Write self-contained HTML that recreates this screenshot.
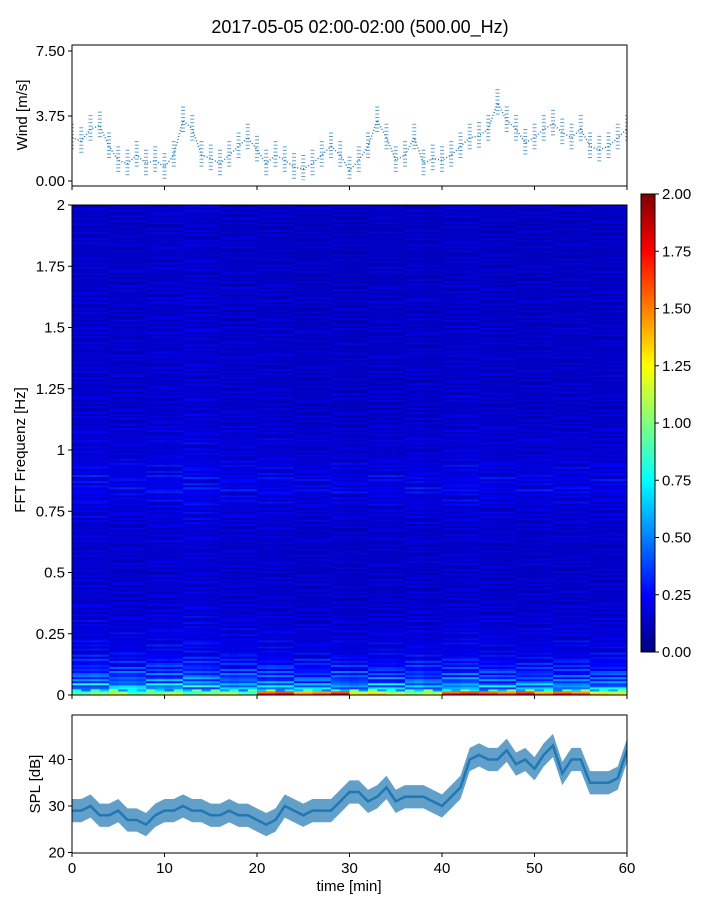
<!DOCTYPE html>
<html><head><meta charset="utf-8">
<style>
body{margin:0;background:#fff;font-family:"Liberation Sans","DejaVu Sans",sans-serif;}
svg text{font-family:"Liberation Sans","DejaVu Sans",sans-serif;}
</style></head>
<body>
<svg id="chart" width="720" height="900" xmlns="http://www.w3.org/2000/svg">
<defs>
<linearGradient id="jet" x1="0" y1="1" x2="0" y2="0">
<stop offset="0" stop-color="#00007f"/><stop offset="0.125" stop-color="#0000ff"/>
<stop offset="0.375" stop-color="#00ffff"/><stop offset="0.625" stop-color="#ffff00"/>
<stop offset="0.875" stop-color="#ff0000"/><stop offset="1" stop-color="#7f0000"/>
</linearGradient>
<clipPath id="clipW"><rect x="72" y="45" width="555" height="141"/></clipPath>
<clipPath id="clipS"><rect x="72" y="715" width="555" height="138"/></clipPath>
</defs>
<text x="360" y="33" text-anchor="middle" font-size="18">2017-05-05 02:00-02:00 (500.00_Hz)</text>
<g id="wind"></g>
<g id="spec"></g>
<g id="cbar"></g>
<g id="spl"></g>
</svg>
<script>
const minutes=[0,1,2,3,4,5,6,7,8,9,10,11,12,13,14,15,16,17,18,19,20,21,22,23,24,25,26,27,28,29,30,31,32,33,34,35,36,37,38,39,40,41,42,43,44,45,46,47,48,49,50,51,52,53,54,55,56,57,58,59,60];
const windValues=[2.5,2.3,3.0,3.2,2.0,1.2,1.0,1.5,1.0,1.2,0.8,1.5,3.5,3.0,1.5,1.3,1.0,1.5,2.0,2.5,1.8,1.0,1.5,1.2,0.8,0.7,1.0,1.5,2.0,1.5,0.6,1.2,2.0,3.5,2.5,1.2,1.5,2.5,1.0,1.3,1.2,1.5,2.0,2.5,2.6,3.0,4.5,3.5,3.0,2.2,2.5,3.0,3.3,2.8,2.5,3.0,2.0,1.8,2.0,2.5,3.0];
const windTicks=[0,3.75,7.5];
const windTickLabels=["0.00","3.75","7.50"];
const splValues=[29,29,30,28,28,29,27,27,26,28,29,29,30,29,29,28,28,29,28,28,27,26,27,30,29,28,29,29,29,31,33,33,31,32,34,31,32,32,32,31,30,32,34,40,41,40,40,42,39,40,38,41,43,37,40,40,35,35,35,36,42];
const splTicks=[20,30,40];
const xTicks=[0,10,20,30,40,50,60];
const freqTicks=[0,0.25,0.5,0.75,1,1.25,1.5,1.75,2];
const freqTickLabels=["0","0.25","0.5","0.75","1","1.25","1.5","1.75","2"];
const cbarTicks=[0,0.25,0.5,0.75,1,1.25,1.5,1.75,2];
// spectral level per 0.025 Hz band, bottom to top (80 bands)
const freqProfile=[1.1,0.6,0.45,0.38,0.32,0.28,0.24,0.21,0.22,0.19,0.2,0.18,0.19,0.17,0.18,0.16,0.17,0.16,0.17,0.16,0.15,0.17,0.16,0.16,0.15,0.18,0.16,0.17,0.18,0.19,0.18,0.21,0.2,0.24,0.21,0.23,0.2,0.21,0.19,0.18,0.17,0.19,0.17,0.18,0.16,0.17,0.16,0.15,0.17,0.16,0.16,0.15,0.16,0.16,0.15,0.17,0.15,0.16,0.15,0.17,0.15,0.16,0.15,0.15,0.17,0.15,0.16,0.15,0.14,0.16,0.15,0.15,0.14,0.16,0.15,0.15,0.14,0.15,0.15,0.16];
// fine streak multiplier for sub-rows within bands
const streak=[1.3,0.7,1.05,0.6,1.2,0.85,1.4,0.65,1.0,0.75,1.25,0.9,0.6,1.15,0.8,1.35,0.7];
// time modulation per minute
const timeLevel=[1.0,1.0,1.05,1.0,0.95,1.0,1.0,0.95,1.0,1.05,1.0,1.05,1.1,1.1,1.05,1.0,1.0,0.95,1.0,1.0,0.95,1.0,0.95,0.95,0.9,0.9,0.9,0.92,0.95,0.9,0.85,0.9,0.92,0.95,0.95,0.9,0.95,1.0,0.9,0.9,0.95,0.95,1.0,1.0,0.95,0.95,0.9,0.92,0.9,0.9,0.92,0.95,0.92,0.9,0.92,0.95,0.9,0.92,0.95,0.95];
// lowest band level per 2 minutes
const bottomRow=[1.0,1.1,1.2,1.0,1.1,1.2,1.0,1.1,1.2,1.0,1.8,1.9,1.6,1.7,1.9,1.3,1.4,1.2,1.1,1.2,1.8,1.9,1.8,1.7,1.9,1.6,1.8,1.7,1.4,1.3];

const NS='http://www.w3.org/2000/svg';
function el(tag,attrs,parent,txt){const e=document.createElementNS(NS,tag);for(const k in attrs)e.setAttribute(k,attrs[k]);if(txt!==undefined)e.textContent=txt;parent.appendChild(e);return e;}
const X0=72,X1=627;
const xs=m=>X0+(m/60)*(X1-X0);
function jet(v){let t=Math.max(0,Math.min(1,v/2));const c=x=>Math.round(255*Math.max(0,Math.min(1,1.5-Math.abs(x))));return `rgb(${c(4*t-3)},${c(4*t-2)},${c(4*t-1)})`;}

// ---- wind ----
const W=document.getElementById('wind');
const WY0=45,WY1=186;const wy=v=>181-(v/3.75)*65;
for(let i=0;i<minutes.length;i++){
 const d=el('line',{x1:xs(minutes[i]),x2:xs(minutes[i]),y1:wy(windValues[i]+0.8),y2:wy(Math.max(0.05,windValues[i]-0.8)),stroke:'#1f77b4','stroke-width':4,'stroke-dasharray':'1 2.5','stroke-opacity':0.7,'clip-path':'url(#clipW)'},W);
 
 
}
let wp='';for(let i=0;i<minutes.length;i++)wp+=(i?'L':'M')+xs(minutes[i])+' '+wy(windValues[i]);
const wl=el('path',{d:wp,fill:'none',stroke:'#1f77b4','stroke-width':1.5,'stroke-dasharray':'1 2'},W);

el('rect',{x:X0,y:WY0,width:X1-X0,height:WY1-WY0,fill:'none',stroke:'#000','stroke-width':1},W);
windTicks.forEach((t,i)=>{el('line',{x1:X0-4,x2:X0,y1:wy(t),y2:wy(t),stroke:'#000'},W);
 const tx=el('text',{x:X0-7,y:wy(t)+5,'text-anchor':'end','font-size':15},W,windTickLabels[i]);
 });
xTicks.forEach(t=>el('line',{x1:xs(t),x2:xs(t),y1:WY1,y2:WY1+4,stroke:'#000'},W));
const wt=el('text',{x:27,y:115,'text-anchor':'middle','font-size':15,transform:'rotate(-90 27 115)'},W,'Wind [m/s]');


// ---- spectrogram ----
const S=document.getElementById('spec');
const SY0=205,SY1=695;const fy=f=>SY1-(f/2)*(SY1-SY0);
const SUB=3;
const rowH=(SY1-SY0)/freqProfile.length/SUB, colW=(X1-X0)/timeLevel.length;
for(let r=0;r<freqProfile.length*SUB;r++){const b=Math.floor(r/SUB);for(let c=0;c<timeLevel.length;c++){
 let v=b===0?(r<2?bottomRow[Math.floor(c/2)]*(r===0?1:0.85):freqProfile[0]*0.7*streak[(r+c)%streak.length]):freqProfile[b]*timeLevel[c]*streak[(r*3+Math.floor(c/4))%streak.length];
 const rc=el('rect',{x:X0+c*colW,y:SY1-(r+1)*rowH,width:colW+0.5,height:rowH+0.5,fill:jet(v)},S);
 
}}
el('rect',{x:X0,y:SY0,width:X1-X0,height:SY1-SY0,fill:'none',stroke:'#000'},S);
freqTicks.forEach((t,i)=>{el('line',{x1:X0-4,x2:X0,y1:fy(t),y2:fy(t),stroke:'#000'},S);
 const tx=el('text',{x:X0-7,y:fy(t)+5,'text-anchor':'end','font-size':15},S,freqTickLabels[i]);
 });
xTicks.forEach(t=>el('line',{x1:xs(t),x2:xs(t),y1:SY1,y2:SY1+4,stroke:'#000'},S));
const st=el('text',{x:25,y:450,'text-anchor':'middle','font-size':15,transform:'rotate(-90 25 450)'},S,'FFT Frequenz [Hz]');


// ---- colorbar ----
const C=document.getElementById('cbar');
const CY0=194,CY1=652;const cy=v=>CY1-(v/2)*(CY1-CY0);
el('rect',{x:641,y:CY0,width:14,height:CY1-CY0,fill:'url(#jet)',stroke:'#000'},C);
cbarTicks.forEach(t=>{el('line',{x1:655,x2:659,y1:cy(t),y2:cy(t),stroke:'#000'},C);
 const tx=el('text',{x:662,y:cy(t)+5,'font-size':15},C,t.toFixed(2));
 });

// ---- SPL ----
const P=document.getElementById('spl');
const PY0=715,PY1=853;const py=v=>852.5-(v-20)*4.65;
let up='',dn='';
for(let i=0;i<minutes.length;i++){up+=(i?'L':'M')+xs(minutes[i])+' '+py(splValues[i]+2.5);}
for(let i=minutes.length-1;i>=0;i--){dn+='L'+xs(minutes[i])+' '+py(splValues[i]-2.5);}
const band=el('path',{d:up+dn+'Z',fill:'#1f77b4','fill-opacity':0.7,'clip-path':'url(#clipS)'},P);

let sp='';for(let i=0;i<minutes.length;i++)sp+=(i?'L':'M')+xs(minutes[i])+' '+py(splValues[i]);
const sl=el('path',{d:sp,fill:'none',stroke:'#1f77b4','stroke-width':2.5,'clip-path':'url(#clipS)'},P);

el('rect',{x:X0,y:PY0,width:X1-X0,height:PY1-PY0,fill:'none',stroke:'#000'},P);
splTicks.forEach(t=>{el('line',{x1:X0-4,x2:X0,y1:py(t),y2:py(t),stroke:'#000'},P);
 const tx=el('text',{x:X0-7,y:py(t)+5,'text-anchor':'end','font-size':15},P,String(t));
 });
xTicks.forEach(t=>{el('line',{x1:xs(t),x2:xs(t),y1:PY1,y2:PY1+4,stroke:'#000'},P);
 const tx=el('text',{x:xs(t),y:PY1+20,'text-anchor':'middle','font-size':15},P,String(t));
 });
const pt=el('text',{x:40,y:784,'text-anchor':'middle','font-size':15,transform:'rotate(-90 40 784)'},P,'SPL [dB]');

const xt=el('text',{x:349,y:891,'text-anchor':'middle','font-size':15},P,'time [min]');

</script>
</body></html>
